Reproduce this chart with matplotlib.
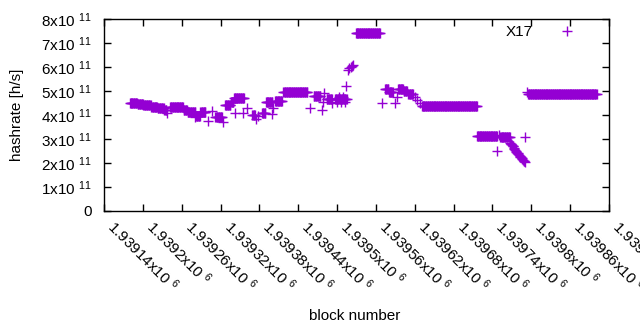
import numpy as np
import matplotlib
matplotlib.use("Agg")
import matplotlib.pyplot as plt

plt.rcParams['font.family'] = ['Liberation Sans', 'DejaVu Sans']
plt.rcParams['mathtext.fontset'] = 'custom'
plt.rcParams['mathtext.rm'] = 'Liberation Sans'
plt.rcParams['mathtext.it'] = 'Liberation Sans'
plt.rcParams['mathtext.bf'] = 'Liberation Sans'

# ---- data (hashrate in units of 1e11 h/s) ----
# constant runs: start block, end block, value
run_start = [1939180, 1939192, 1939201, 1939213, 1939223, 1939233,
             1939242, 1939263, 1939269, 1939282, 1939289, 1939312,
             1939327, 1939336, 1939341, 1939369, 1939384, 1939390,
             1939404, 1939417, 1939464, 1939484, 1939497, 1939529,
             1939574, 1939580, 1939594, 1939603, 1939610, 1939631,
             1939716, 1939752, 1939795]
run_end = [1939191, 1939200, 1939212, 1939222, 1939232, 1939236,
           1939262, 1939268, 1939281, 1939288, 1939296, 1939322,
           1939335, 1939340, 1939355, 1939373, 1939389, 1939400,
           1939415, 1939454, 1939474, 1939492, 1939515, 1939566,
           1939579, 1939586, 1939602, 1939608, 1939617, 1939716,
           1939747, 1939767, 1939901]
run_value = [4.50, 4.45, 4.40, 4.35, 4.28, 4.22,
             4.33, 4.20, 4.12, 3.95, 4.12, 3.93,
             4.42, 4.55, 4.70, 4.00, 4.08, 4.53,
             4.60, 4.96, 4.80, 4.67, 4.65, 7.40,
             5.08, 4.95, 5.10, 5.00, 4.87, 4.36,
             3.13, 3.07, 4.86]

# individual points: block, value
pt_block = [1939237, 1939301, 1939307, 1939324, 1939356, 1939355,
            1939361, 1939375, 1939378, 1939400, 1939401, 1939458,
            1939477, 1939478, 1939480, 1939492, 1939500, 1939506,
            1939512, 1939503, 1939509, 1939514, 1939517, 1939519,
            1939521, 1939523, 1939525, 1939569, 1939590, 1939593,
            1939620, 1939624, 1939628, 1939747, 1939750, 1939790,
            1939793, 1939281, 1939296, 1939342,
            1939767, 1939768, 1939769, 1939770, 1939771, 1939772,
            1939773, 1939774, 1939775, 1939776, 1939777, 1939778,
            1939779, 1939780, 1939781, 1939782, 1939783, 1939784,
            1939785, 1939786, 1939787, 1939788, 1939789, 1939791]
pt_value = [4.08, 3.76, 4.18, 3.72, 4.70, 4.08,
            4.28, 3.82, 3.95, 4.05, 4.28, 4.28,
            4.20, 4.55, 4.90, 4.50, 4.55, 4.55,
            4.55, 4.75, 4.75, 5.22, 5.88, 5.95,
            6.00, 6.05, 6.08, 4.49, 4.49, 4.76,
            4.75, 4.62, 4.49, 2.48, 3.15, 3.10,
            4.97, 3.90, 4.14, 4.08,
            2.85, 2.80, 2.78, 2.75, 2.72, 2.70,
            2.62, 2.58, 2.55, 2.50, 2.46, 2.42,
            2.40, 2.36, 2.33, 2.30, 2.27, 2.24,
            2.20, 2.17, 2.14, 2.10, 2.07, 2.03]

x_ticks = [1939140 + 60 * i for i in range(14)]
y_ticks = [0, 1, 2, 3, 4, 5, 6, 7, 8]

xs, ys = [], []
for s, e, v in zip(run_start, run_end, run_value):
    b = np.arange(s, e + 1)
    xs.extend(b)
    ys.extend([v] * len(b))
xs.extend(pt_block)
ys.extend(pt_value)
xs = np.array(xs, dtype=float)
ys = np.array(ys, dtype=float) * 1e11

color = '#9400D3'
fig = plt.figure(figsize=(6.4, 3.3), dpi=100)
ax = fig.add_axes([104/640, 1 - 211/330, (609-104)/640, (211-19)/330])
ax.plot(xs, ys, linestyle='none', marker='+', markersize=6.5,
        markeredgewidth=1.0, color=color, label='X17')

ax.set_xlim(1939140, 1939920)
ax.set_ylim(0, 8e11)
ax.set_yticks([v * 1e11 for v in y_ticks])
ax.set_yticklabels(['0' if v == 0 else f'{v}x10 $^{{11}}$' for v in y_ticks],
                   fontsize=11)
ax.set_xticks(x_ticks)
ax.set_xticklabels([f'{v/1e6:g}x10 $^{{6}}$' for v in x_ticks], fontsize=11,
                   rotation=-45, ha='left', va='bottom', rotation_mode='anchor')
ax.tick_params(direction='in', top=True, right=True, length=5, width=1,
               color='black')
ax.tick_params(axis='x', pad=14)
ax.tick_params(axis='y', pad=9)
for sp in ax.spines.values():
    sp.set_linewidth(1)
    sp.set_color('black')

ax.set_ylabel('hashrate [h/s]', fontsize=11)
ax.yaxis.set_label_coords(-0.158, 0.5)
fig.text(355/640, 1 - 316/330, 'block number', fontsize=11,
         ha='center', va='center')

leg = ax.legend(loc='upper right', bbox_to_anchor=(0.978, 1.04), frameon=False,
                fontsize=11, markerfirst=False, handlelength=2.2,
                handletextpad=1.15)

fig.savefig('out.png', dpi=100)
